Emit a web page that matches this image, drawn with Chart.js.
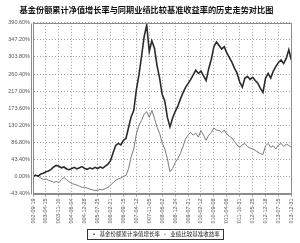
<!DOCTYPE html>
<html>
<head>
    <meta charset="utf-8">
    <title>基金份额累计净值增长率与同期业绩比较基准收益率的历史走势对比图</title>
    <script src="https://cdn.jsdelivr.net/npm/chart.js"></script>
    <style>
        html, body {
            margin: 0;
            padding: 0;
            background-color: white;
        }
        .chart-box {
            width: 300px;
            height: 243px;
        }
    </style>
</head>
<body>
    <div class="chart-box">
        <canvas id="navChart"></canvas>
    </div>

    <script>
        // x-axis dates, one per vertical grid line
        const dateLabels = [
            '2002-09-19', '2003-04-15', '2003-11-10', '2004-06-04', '2004-12-28',
            '2005-07-25', '2006-02-21', '2006-09-15', '2007-04-12', '2007-11-05',
            '2008-06-02', '2008-12-24', '2009-07-21', '2010-02-12', '2010-09-08',
            '2011-04-06', '2011-10-31', '2012-05-25', '2012-12-18', '2013-07-15',
            '2013-12-31'
        ];

        // y ticks (%)
        const yTicks = [-43.4, 0, 43.4, 86.8, 130.2, 173.6, 217.0, 260.4, 303.8, 347.2, 390.6];

        const seriesNames = ['基金份额累计净值增长率', '业绩比较基准收益率'];

        // fund cumulative NAV growth (%), 5 samples per date interval
        const fundGrowth = [
            0, 3, 1, 6, 8, 12, 14, 18, 24, 28,
            26, 22, 24, 19, 17, 20, 23, 19, 22, 25,
            20, 18, 22, 19, 23, 20, 24, 21, 26, 31,
            40, 60, 79, 84, 80, 92, 97, 125, 152, 168,
            220, 258, 305, 355, 385, 318, 345, 326, 282, 250,
            208, 192, 150, 126, 148, 165, 178, 196, 212, 226,
            236, 246, 258, 270, 262, 268, 256, 244, 274, 298,
            330, 342, 333, 324, 330, 314, 302, 290, 275, 262,
            240, 227, 250, 254, 247, 252, 244, 237, 224, 214,
            250, 262, 250, 268, 280, 290, 296, 287, 300, 322,
            296
        ];

        // benchmark return (%)
        const benchReturn = [
            0, 4, 0, -4, -8, -6, -10, -12, -15, -13,
            -16, -8, -3, -8, -14, -18, -20, -22, -25, -28,
            -27, -30, -32, -34, -36, -35, -33, -34, -31, -28,
            -22, -16, -10, -6, -4, 0, 3, 20, 50, 70,
            108, 130, 142, 158, 165, 150, 168, 148, 125, 110,
            85, 70, 45, 12, 20, 35, 45, 58, 75, 95,
            105, 112, 105, 110, 100, 117, 105, 92, 105, 112,
            123, 118, 117, 112, 118, 108, 102, 98, 88, 80,
            74, 80, 84, 76, 72, 70, 66, 62, 58, 56,
            78, 84, 74, 78, 70, 80, 84, 76, 82, 79,
            74
        ];

        const samplesPerLabel = 5;
        const toPoints = arr => arr.map((v, i) => ({ x: i / samplesPerLabel, y: v }));

        // nudge the legend to where the original has it
        const legendShift = {
            id: 'legendShift',
            afterLayout(chart) {
                const lg = chart.legend;
                lg.left += 9; lg.right += 9;
                lg.top += 6; lg.bottom += 6;
            }
        };

        // frame round the plot area and round the legend
        const framePlugin = {
            id: 'frame',
            afterDraw(chart) {
                const ctx = chart.ctx;
                const a = chart.chartArea;
                ctx.save();
                ctx.strokeStyle = '#8c8c8c';
                ctx.lineWidth = 1;
                ctx.strokeRect(Math.round(a.left) + 0.5, Math.round(a.top) + 0.5,
                    Math.round(a.right - a.left), Math.round(a.bottom - a.top));
                ctx.beginPath();
                ctx.moveTo(Math.round(a.left) - 1.5, Math.round(a.top) + 0.5);
                ctx.lineTo(Math.round(a.left) - 1.5, Math.round(a.bottom) + 0.5);
                ctx.stroke();

                const boxes = chart.legend.legendHitBoxes;
                if (boxes && boxes.length) {
                    const first = boxes[0];
                    const last = boxes[boxes.length - 1];
                    const x0 = Math.round(first.left) - 3.5;
                    const x1 = Math.round(last.left + last.width) + 3.5;
                    const y0 = Math.round(first.top) - 2.5;
                    const y1 = Math.round(first.top + first.height) + 2.5;
                    ctx.strokeStyle = '#333';
                    ctx.strokeRect(x0, y0, x1 - x0, y1 - y0);
                }
                ctx.restore();
            }
        };

        const ctx = document.getElementById('navChart').getContext('2d');
        const chart = new Chart(ctx, {
            type: 'line',
            data: {
                datasets: [{
                    label: seriesNames[0],
                    data: toPoints(fundGrowth),
                    borderColor: '#2b2b2b',
                    backgroundColor: '#2b2b2b',
                    borderWidth: 1.6,
                    pointRadius: 0,
                    tension: 0,
                    fill: false
                }, {
                    label: seriesNames[1],
                    data: toPoints(benchReturn),
                    borderColor: '#7a7a7a',
                    backgroundColor: '#7a7a7a',
                    borderWidth: 1,
                    pointRadius: 0,
                    tension: 0,
                    fill: false
                }]
            },
            options: {
                responsive: true,
                maintainAspectRatio: false,
                animation: false,
                layout: {
                    padding: { left: 0, right: 7, top: 0, bottom: 2 }
                },
                plugins: {
                    title: {
                        display: true,
                        text: '基金份额累计净值增长率与同期业绩比较基准收益率的历史走势对比图',
                        color: '#111',
                        font: { family: '"Noto Sans CJK SC"', size: 8.2, weight: 'bold' },
                        padding: { top: 5, bottom: 8 }
                    },
                    legend: {
                        display: true,
                        position: 'bottom',
                        labels: {
                            color: '#222',
                            font: { family: '"Noto Sans CJK SC"', size: 5.5 },
                            usePointStyle: true,
                            pointStyle: 'line',
                            boxWidth: 12,
                            boxHeight: 1,
                            padding: 2
                        }
                    },
                    tooltip: { enabled: false }
                },
                scales: {
                    x: {
                        type: 'linear',
                        min: 0,
                        max: dateLabels.length - 1,
                        afterBuildTicks(scale) {
                            scale.ticks = dateLabels.map((d, i) => ({ value: i }));
                        },
                        ticks: {
                            autoSkip: false,
                            maxRotation: 90,
                            minRotation: 90,
                            color: '#555',
                            padding: 2,
                            font: { family: 'Liberation Sans', size: 5.5 },
                            callback: value => dateLabels[value]
                        },
                        grid: {
                            color: '#a0a0a0',
                            lineWidth: 1,
                            tickLength: 3,
                            drawTicks: true
                        },
                        border: { display: true, color: '#8c8c8c', dash: [1, 2] },
                        afterFit(scale) { scale.height = 30; }
                    },
                    y: {
                        min: yTicks[0],
                        max: yTicks[yTicks.length - 1],
                        afterBuildTicks(scale) {
                            scale.ticks = yTicks.map(v => ({ value: v }));
                        },
                        ticks: {
                            color: '#555',
                            padding: 3,
                            font: { family: 'Liberation Sans', size: 5.5 },
                            callback: value => value.toFixed(2) + '%'
                        },
                        grid: {
                            color: '#a0a0a0',
                            lineWidth: 1,
                            drawTicks: false
                        },
                        border: { display: true, color: '#8c8c8c', dash: [1, 2] },
                        afterFit(scale) { scale.width = 33; }
                    }
                }
            },
            plugins: [legendShift, framePlugin]
        });
    </script>
</body>
</html>
